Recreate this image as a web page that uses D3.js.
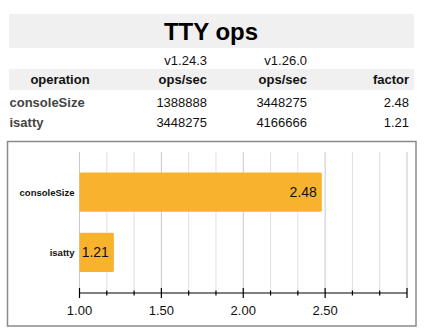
<!DOCTYPE html>
<html><head><meta charset="utf-8">
<script src="https://cdn.jsdelivr.net/npm/d3@7"></script>
<style>
body{margin:0;background:#fff;font-family:"Liberation Sans",Arial,Helvetica,sans-serif;}
svg{display:block;}
</style></head><body>
<script>
const title = "TTY ops";
const versions = ["v1.24.3", "v1.26.0"];
const headers = ["operation", "ops/sec", "ops/sec", "factor"];
const operations = ["consoleSize", "isatty"];
const opsOld = [1388888, 3448275];
const opsNew = [3448275, 4166666];
const factors = [2.48, 1.21];
const tickLabels = ["1.00", "1.50", "2.00", "2.50"];
const xDomain = [1, 3];

const W = 426, H = 334;
const svg = d3.select("body").append("svg").attr("width", W).attr("height", H);
const font = '"Liberation Sans",Arial,Helvetica,sans-serif';

// Title band
svg.append("rect").attr("x", 9).attr("y", 14).attr("width", 405).attr("height", 34).attr("fill", "#f0f0f0");
svg.append("text").attr("x", 211).attr("y", 40).attr("text-anchor", "middle")
  .attr("font-family", font).attr("font-weight", "bold").attr("font-size", 24).attr("fill", "#000").text(title);

// Version row
const colRight = [207, 307];
versions.forEach((v, i) => {
  svg.append("text").attr("x", colRight[i]).attr("y", 64.5).attr("text-anchor", "end")
    .attr("font-family", font).attr("font-size", 13).attr("fill", "#111").text(v);
});

// Header band
svg.append("rect").attr("x", 9).attr("y", 69).attr("width", 405).attr("height", 21).attr("fill", "#f0f0f0");
const hdrX = [60, 207, 307, 409];
const hdrAnchor = ["middle", "end", "end", "end"];
headers.forEach((h, i) => {
  svg.append("text").attr("x", hdrX[i]).attr("y", 84).attr("text-anchor", hdrAnchor[i])
    .attr("font-family", font).attr("font-weight", "bold").attr("font-size", 13).attr("fill", "#111").text(h);
});

// Data rows
const rowY = [106.5, 126.5];
operations.forEach((op, i) => {
  svg.append("text").attr("x", 9.5).attr("y", rowY[i]).attr("font-family", font).attr("font-weight", "bold")
    .attr("font-size", 13).attr("fill", "#444").text(op);
  svg.append("text").attr("x", 207).attr("y", rowY[i]).attr("text-anchor", "end").attr("font-family", font)
    .attr("font-size", 13).attr("fill", "#111").text(opsOld[i]);
  svg.append("text").attr("x", 307).attr("y", rowY[i]).attr("text-anchor", "end").attr("font-family", font)
    .attr("font-size", 13).attr("fill", "#111").text(opsNew[i]);
  svg.append("text").attr("x", 409).attr("y", rowY[i]).attr("text-anchor", "end").attr("font-family", font)
    .attr("font-size", 13).attr("fill", "#111").text(factors[i].toFixed(2));
});

// Chart box
svg.append("rect").attr("x", 7.5).attr("y", 141.5).attr("width", 408.5).attr("height", 184.5)
  .attr("fill", "none").attr("stroke", "#8a8a8a").attr("stroke-width", 1.5);

const x = d3.scaleLinear().domain(xDomain).range([79.5, 407]);
const y = d3.scaleBand().domain(operations).range([172.5, 272]).paddingInner(0.35).paddingOuter(0);

const allTicks = d3.range(0, 13).map(k => xDomain[0] + k / 6);
const majorTicks = tickLabels.map(Number).concat([3]);
const isMajor = t => majorTicks.some(m => Math.abs(m - t) < 1e-6);

// Grid
svg.append("g").selectAll("line").data(allTicks).join("line")
  .attr("x1", d => x(d)).attr("x2", d => x(d)).attr("y1", 152).attr("y2", 293)
  .attr("stroke", d => isMajor(d) ? "#c8c8c8" : "#e0e0e0").attr("stroke-width", 1);

// Bars
svg.append("g").selectAll("rect").data(operations).join("rect")
  .attr("x", x(1)).attr("y", d => y(d)).attr("width", (d, i) => x(factors[i]) - x(1)).attr("height", y.bandwidth())
  .attr("rx", 1.5).attr("fill", "#f9b22e");

// Value labels
svg.append("g").selectAll("text").data(operations).join("text")
  .attr("x", (d, i) => x(factors[i]) - 5).attr("y", d => y(d) + y.bandwidth() / 2 + 5)
  .attr("text-anchor", "end").attr("font-family", font).attr("font-size", 14).attr("fill", "#111")
  .text((d, i) => factors[i].toFixed(2));

// Category labels
svg.append("g").selectAll("text").data(operations).join("text")
  .attr("x", 74.5).attr("y", d => y(d) + y.bandwidth() / 2 + 3.5)
  .attr("text-anchor", "end").attr("font-family", font).attr("font-weight", "bold").attr("font-size", 9.5).attr("fill", "#111")
  .text(d => d);

// Axis
const axisY = 293;
const ax = svg.append("g").attr("transform", `translate(0,${axisY})`);
ax.append("line").attr("x1", x(xDomain[0])).attr("x2", x(xDomain[1])).attr("stroke", "#000").attr("stroke-width", 1.2);
ax.selectAll("line.t").data(allTicks).join("line").attr("class", "t")
  .attr("x1", d => x(d)).attr("x2", d => x(d))
  .attr("y1", d => isMajor(d) ? -5 : -2.5).attr("y2", d => isMajor(d) ? 5 : 2.5)
  .attr("stroke", "#000").attr("stroke-width", 1.2);
ax.selectAll("text").data(tickLabels).join("text")
  .attr("x", d => x(+d)).attr("y", 22).attr("text-anchor", "middle")
  .attr("font-family", font).attr("font-size", 13).attr("fill", "#111").text(d => d);
</script>
</body></html>
